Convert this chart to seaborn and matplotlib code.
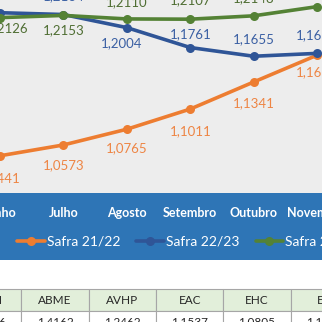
import matplotlib
matplotlib.use("Agg")
import matplotlib.pyplot as plt
from matplotlib.patches import Rectangle
import seaborn as sns
import pandas as pd

# Monthly values per harvest season
meses = ["Junho", "Julho", "Agosto", "Setembro", "Outubro", "Novembro"]
safra_21_22 = [1.0441, 1.0573, 1.0765, 1.1011, 1.1341, 1.1668]
safra_22_23 = [1.2186, 1.2164, 1.2004, 1.1761, 1.1655, 1.1690]
safra_23_24 = [1.2126, 1.2153, 1.2110, 1.2107, 1.2148, 1.2260]
safras = ["Safra 21/22", "Safra 22/23", "Safra 23/24"]

# Summary table under the chart
tabela_cols = ["AMCI", "ABME", "AVHP", "EAC", "EHC", "EB"]
tabela_vals = ["1,1236", "1,4162", "1,2462", "1,1537", "1,0805", "1,1120"]

sns.set_theme(style="white")
plt.rcParams["font.family"] = ["Lato", "DejaVu Sans"]

cores = {"Safra 21/22": "#ED7D31", "Safra 22/23": "#2F5597", "Safra 23/24": "#548235"}
cores_rotulo = {"Safra 21/22": "#EE8544", "Safra 22/23": "#3A5FA3", "Safra 23/24": "#4F6E33"}

df = pd.DataFrame({
    "mes": meses * 3,
    "pos": list(range(len(meses))) * 3,
    "valor": safra_21_22 + safra_22_23 + safra_23_24,
    "safra": [s for s in safras for _ in meses],
})

W = H = 322
fig = plt.figure(figsize=(W / 100, H / 100), dpi=100, facecolor="white")

# plot area (top part)
ax = fig.add_axes([0, (H - 193) / H, 1, 193 / H])
ax.set_facecolor("#EDEDED")
sns.lineplot(data=df, x="pos", y="valor", hue="safra", hue_order=safras,
             palette=cores, marker="o", markersize=6.5, markeredgewidth=0,
             linewidth=2.6, ax=ax)
for s in ax.spines.values():
    s.set_visible(False)
ax.set_xlim(0.123, 5.077)
ax.set_ylim(0.9987, 1.2341)
ax.set_xticks(range(len(meses)))
ax.set_xticklabels(meses)
ax.set_yticks([])
ax.set_xlabel("")
ax.set_ylabel("")
ax.tick_params(axis="x", length=0, pad=10, labelcolor="white", labelsize=9)
for t in ax.get_xticklabels():
    t.set_fontweight("bold")

# data labels: offsets in pixels for each point
offsets = {
    "Safra 21/22": [(0, -22), (0, -20), (0, -19), (0, -22), (0, -21), (0, -17)],
    "Safra 22/23": [(0, 18), (0, 18), (-5, -16), (0, 13), (0, 17), (0, 18)],
    "Safra 23/24": [(8, -11), (0, -15), (0, 17), (0, 19), (0, 18), (0, 17)],
}
series = {"Safra 21/22": safra_21_22, "Safra 22/23": safra_22_23, "Safra 23/24": safra_23_24}
for nome, vals in series.items():
    for i, v in enumerate(vals):
        dx, dy = offsets[nome][i]
        ax.annotate(f"{v:.4f}".replace(".", ","), (i, v), xytext=(dx, dy),
                    textcoords="offset pixels", ha="center", va="center",
                    fontsize=9.5, color=cores_rotulo[nome], annotation_clip=False)

# blue band with months and legend
fig.patches.append(Rectangle((0, (H - 260) / H), 1, 67 / H, transform=fig.transFigure,
                             facecolor="#2E75B6", edgecolor="none", zorder=-1))
handles, labels = ax.get_legend_handles_labels()
ax.get_legend().remove()
leg = fig.legend(handles, labels, loc="center left", bbox_to_anchor=(17 / W, 1 - 242 / H),
                 ncol=3, frameon=False, fontsize=10, handlelength=2.0,
                 handletextpad=0.15, columnspacing=1.15, borderpad=0, borderaxespad=0)
for t in leg.get_texts():
    t.set_color("white")

# table
axt = fig.add_axes([0, 0, 1, 1])
axt.axis("off")
axt.set_zorder(-2)
tab = axt.table(cellText=[tabela_vals], colLabels=tabela_cols, cellLoc="center",
                bbox=[-46 / W, -11 / H, 404 / W, 44 / H])
tab.auto_set_font_size(False)
for (r, c), cell in tab.get_celld().items():
    cell.set_edgecolor("#A6A6A6")
    cell.set_linewidth(0.8)
    cell.get_text().set_fontsize(8.5)
    cell.get_text().set_color("#262626")
    cell.set_facecolor("#E2EFDA" if r == 0 else "white")

fig.savefig("out.png", dpi=100, facecolor="white")
